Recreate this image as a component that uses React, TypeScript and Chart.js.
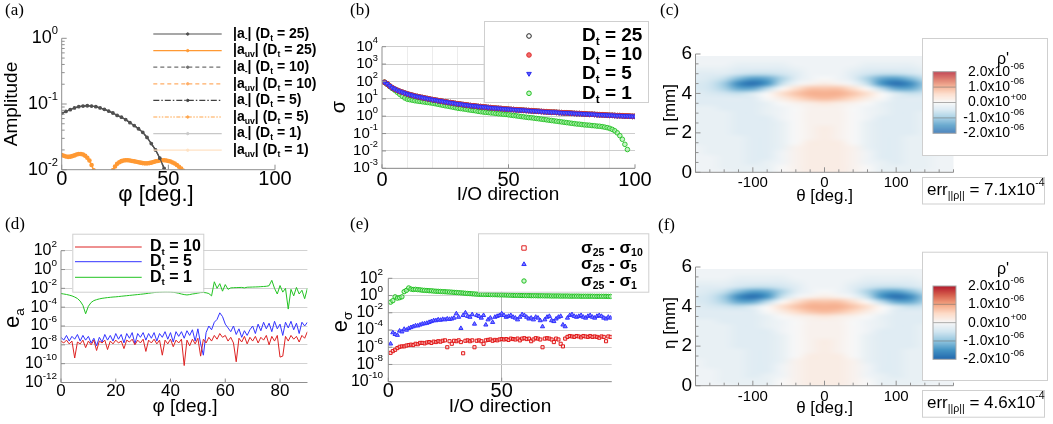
import { useEffect, useRef } from "react";
import { Chart, registerables } from "chart.js";

Chart.register(...registerables);

const W = 1053;
const H = 424;
const SANS = '"Liberation Sans", Arial, Helvetica, sans-serif';
const SERIF = '"Liberation Serif", "Times New Roman", serif';
const AXIS = "#8f8f8f";

// ---------- (a) modal amplitudes ----------
const phiA = [0, 2, 4, 6, 8, 10, 12, 14, 16, 18, 20, 22, 24, 26, 28, 30, 32, 34, 36, 38, 40, 42, 44, 46, 48, 50, 52];
const ampA = [0.072, 0.077, 0.082, 0.087, 0.091, 0.093, 0.094, 0.093, 0.091, 0.087, 0.083, 0.078, 0.073, 0.067, 0.063, 0.058, 0.052, 0.047, 0.042, 0.037, 0.031, 0.025, 0.02, 0.015, 0.0105, 0.0068, 0.004];
const phiAuv = Array.from({ length: 61 }, (_, i) => i);
const ampAuv = [
  0.0167, 0.0163, 0.0159, 0.0157, 0.0158, 0.0161, 0.0165, 0.017, 0.0173, 0.0173,
  0.017, 0.0163, 0.0152, 0.0138, 0.0118, 0.0098, 0.0078, 0.0062, 0.0052, 0.0047,
  0.0046, 0.005, 0.006, 0.0077, 0.0098, 0.0112, 0.0123, 0.013, 0.0135, 0.0138,
  0.0139, 0.0139, 0.0138, 0.0136, 0.0134, 0.0132, 0.013, 0.0128, 0.0126, 0.0125,
  0.0125, 0.0126, 0.0128, 0.0131, 0.0134, 0.0136, 0.0138, 0.0139, 0.0139, 0.0138,
  0.0136, 0.0133, 0.0129, 0.0124, 0.0118, 0.0111, 0.0104, 0.0096, 0.0086, 0.0075,
  0.0065,
];
const ampYTickExp = [0, -1, -2];
const ampXTicks = [0, 50, 100];

// ---------- (b) singular values (log10) ----------
const ioIdx = Array.from({ length: 100 }, (_, i) => i + 1);
const sigmaD25Log = [
  1.95, 1.86, 1.74, 1.64, 1.56, 1.49, 1.43, 1.38, 1.33, 1.28,
  1.24, 1.2, 1.16, 1.13, 1.1, 1.07, 1.04, 1.01, 0.98, 0.95,
  0.93, 0.9, 0.88, 0.85, 0.83, 0.8, 0.78, 0.76, 0.73, 0.71,
  0.69, 0.67, 0.65, 0.63, 0.61, 0.6, 0.58, 0.56, 0.55, 0.53,
  0.52, 0.5, 0.49, 0.47, 0.46, 0.45, 0.44, 0.42, 0.41, 0.4,
  0.39, 0.38, 0.37, 0.36, 0.35, 0.34, 0.33, 0.32, 0.31, 0.3,
  0.29, 0.28, 0.27, 0.26, 0.25, 0.24, 0.23, 0.23, 0.22, 0.21,
  0.2, 0.19, 0.19, 0.18, 0.17, 0.16, 0.15, 0.15, 0.14, 0.13,
  0.12, 0.11, 0.11, 0.1, 0.09, 0.08, 0.08, 0.07, 0.06, 0.05,
  0.05, 0.04, 0.03, 0.03, 0.02, 0.01, 0.01, 0.0, -0.01, -0.01,
];
const sigmaD10Log = sigmaD25Log;
const sigmaD5Log = sigmaD25Log;
const sigmaD1Log = [
  1.95, 1.84, 1.72, 1.6, 1.5, 1.38, 1.26, 1.15, 1.05, 0.98,
  0.95, 0.92, 0.89, 0.87, 0.85, 0.83, 0.81, 0.79, 0.77, 0.75,
  0.72, 0.69, 0.66, 0.63, 0.6, 0.58, 0.55, 0.52, 0.49, 0.46,
  0.44, 0.42, 0.4, 0.37, 0.35, 0.33, 0.31, 0.28, 0.26, 0.24,
  0.22, 0.21, 0.19, 0.18, 0.16, 0.14, 0.13, 0.11, 0.1, 0.08,
  0.06, 0.04, 0.02, 0.0, -0.02, -0.04, -0.06, -0.08, -0.09, -0.11,
  -0.13, -0.15, -0.17, -0.19, -0.21, -0.23, -0.25, -0.27, -0.29, -0.31,
  -0.33, -0.35, -0.37, -0.39, -0.41, -0.43, -0.45, -0.46, -0.48, -0.5,
  -0.51, -0.52, -0.54, -0.55, -0.57, -0.58, -0.6, -0.63, -0.66, -0.7,
  -0.76, -0.84, -0.96, -1.12, -1.33, -1.62, -1.92,
];
const sigmaYTickExp = [4, 3, 2, 1, 0, -1, -2, -3];
const sigmaXTicks = [0, 50, 100];
const sigmaXGrid = [10, 20, 30, 40, 50, 60, 70, 80, 90];

// ---------- (c), (f) density perturbation field, units of 1e-7 ----------
const fieldTheta = [-180, -160, -140, -120, -100, -80, -60, -40, -20, 0, 20, 40, 60, 80, 100, 120, 140, 160, 180];
const fieldEta = [5.75, 5.5, 5.25, 5.0, 4.75, 4.5, 4.25, 4.0, 3.75, 3.5, 3.25, 3.0, 2.75, 2.5, 2.25, 2.0, 1.75, 1.5, 1.25, 1.0, 0.75, 0.5, 0.25, 0.0];
const rhoE7 = [
  [-1, -1, -1, -1, -1, -1, -1, -1, -1, -1, -1, -1, -1, -1, -1, -1, -1, -1, -1],
  [-1, -1, -1, -2, -2, -2, -2, -1, -1, -1, -1, -1, -2, -2, -2, -2, -1, -1, -1],
  [-2, -2, -2, -3, -3, -3, -3, -2, -1, -1, -1, -2, -3, -3, -3, -3, -2, -2, -2],
  [-3, -3, -3, -5, -6, -6, -5, -3, -1, -1, -1, -3, -5, -6, -6, -5, -3, -3, -3],
  [-3, -4, -6, -11, -14, -13, -8, -3, -1, 0, -1, -3, -8, -13, -14, -11, -6, -4, -3],
  [-4, -5, -9, -16, -19, -15, -6, -1, 1, 2, 1, -1, -6, -15, -19, -16, -9, -5, -4],
  [-4, -5, -8, -13, -13, -7, 0, 4, 7, 7, 7, 4, 0, -7, -13, -13, -8, -5, -4],
  [-3, -4, -5, -6, -4, 0, 4, 7, 9, 9, 9, 7, 4, 0, -4, -6, -5, -4, -3],
  [-3, -3, -3, -3, -3, 0, 2, 5, 7, 8, 7, 5, 2, 0, -3, -3, -3, -3, -3],
  [-3, -3, -3, -3, -3, -2, 0, 1, 2, 3, 2, 1, 0, -2, -3, -3, -3, -3, -3],
  [-2, -2, -3, -3, -3, -2, -1, 0, 1, 1, 1, 0, -1, -2, -3, -3, -3, -2, -2],
  [-2, -2, -2, -3, -3, -2, -1, 0, 1, 1, 1, 0, -1, -2, -3, -3, -2, -2, -2],
  [-2, -2, -2, -3, -3, -3, -1, 0, 1, 1, 1, 0, -1, -3, -3, -3, -2, -2, -2],
  [-2, -2, -2, -3, -3, -3, -2, 0, 1, 1, 1, 0, -2, -3, -3, -3, -2, -2, -2],
  [-2, -2, -2, -3, -3, -3, -2, 0, 1, 2, 1, 0, -2, -3, -3, -3, -2, -2, -2],
  [-2, -2, -2, -3, -3, -3, -2, 0, 1, 2, 1, 0, -2, -3, -3, -3, -2, -2, -2],
  [-2, -2, -2, -2, -3, -3, -2, 0, 1, 2, 1, 0, -2, -3, -3, -2, -2, -2, -2],
  [-2, -2, -2, -2, -3, -3, -2, 0, 2, 2, 2, 0, -2, -3, -3, -2, -2, -2, -2],
  [-1, -2, -2, -2, -3, -3, -2, 1, 2, 2, 2, 1, -2, -3, -3, -2, -2, -2, -1],
  [-1, -2, -2, -2, -3, -3, -1, 1, 2, 2, 2, 1, -1, -3, -3, -2, -2, -2, -1],
  [-1, -1, -2, -2, -3, -3, -1, 1, 2, 2, 2, 1, -1, -3, -3, -2, -2, -1, -1],
  [-1, -1, -2, -2, -3, -2, -1, 1, 2, 2, 2, 1, -1, -2, -3, -2, -2, -1, -1],
  [-1, -1, -2, -2, -2, -2, 0, 1, 2, 2, 2, 1, 0, -2, -2, -2, -2, -1, -1],
  [-1, -1, -1, -2, -2, -2, 0, 1, 2, 2, 2, 1, 0, -2, -2, -2, -1, -1, -1],
];
const rhoUnit = 1e-7;
const rhoLimit = 2e-6;
const thetaTicks = [-100, 0, 100];
const thetaMinor = [-180, -160, -140, -120, -80, -60, -40, -20, 20, 40, 60, 80, 120, 140, 160, 180];
const etaTicks = [0, 2, 4, 6];
const etaMinor = [0.5, 1, 1.5, 2.5, 3, 3.5, 4.5, 5, 5.5];
const colorbarLabels = [
  { v: 2e-6, main: "2.0x10", exp: "-06" },
  { v: 1e-6, main: "1.0x10", exp: "-06" },
  { v: 0, main: "0.0x10", exp: "+00" },
  { v: -1e-6, main: "-1.0x10", exp: "-06" },
  { v: -2e-6, main: "-2.0x10", exp: "-06" },
];
const errLabels = [
  { mant: "7.1", exp: "-4" },
  { mant: "4.6", exp: "-4" },
];

// ---------- (d) amplitude error (log10) ----------
const phiD = Array.from({ length: 91 }, (_, i) => i);
const eaD10Log = [
  -7.6, -7.8, -7.5, -7.9, -7.6, -9.4, -7.7, -7.9, -7.5, -8.3,
  -7.6, -8.0, -7.5, -8.6, -7.6, -7.8, -7.5, -8.5, -7.6, -7.9,
  -7.5, -7.8, -7.6, -8.4, -7.5, -7.7, -7.4, -8.0, -7.5, -7.8,
  -7.4, -8.7, -7.5, -7.8, -7.4, -7.9, -7.5, -9.1, -7.5, -7.9,
  -7.4, -8.2, -7.5, -7.8, -7.4, -10.2, -7.5, -8.1, -7.4, -7.9,
  -7.3, -9.2, -7.4, -7.8, -7.2, -7.6, -7.0, -7.4, -6.8, -7.2,
  -7.0, -7.6, -7.2, -7.8, -9.8, -7.3, -7.7, -7.1, -7.9, -7.2,
  -7.6, -7.1, -7.8, -7.2, -7.5, -7.0, -8.0, -7.1, -7.6, -7.0,
  -9.3, -9.2, -7.1, -7.6, -7.0, -7.4, -7.1, -7.7, -7.0, -7.3,
  -6.6,
];
const eaD5Log = [
  -7.2, -7.5, -7.0, -7.6, -7.1, -7.4, -6.9, -7.6, -7.0, -7.5,
  -7.1, -7.8, -7.3, -8.1, -7.2, -7.7, -6.9, -7.5, -7.0, -7.6,
  -6.8, -7.4, -6.9, -7.8, -6.8, -7.3, -6.7, -7.9, -6.8, -7.2,
  -6.7, -7.5, -6.8, -7.3, -6.7, -7.6, -6.8, -7.2, -6.6, -7.4,
  -6.7, -7.7, -6.6, -7.1, -6.6, -7.3, -6.5, -7.0, -6.4, -7.6,
  -6.3, -7.9, -9.1, -6.7, -6.0, -6.4, -5.6, -5.3, -4.6, -5.0,
  -5.8, -6.2, -6.6, -6.0, -6.9, -6.3, -7.2, -6.5, -7.0, -6.4,
  -6.0, -6.8, -5.8, -6.5, -5.6, -6.3, -5.7, -6.6, -5.5, -6.3,
  -5.8, -7.0, -5.6, -6.2, -5.5, -6.4, -5.7, -6.8, -5.6, -6.0,
  -5.6,
];
const eaD1Log = [
  -2.55, -2.6, -2.65, -2.72, -2.8, -2.92, -3.08, -3.35, -3.8, -4.7,
  -3.9, -3.5, -3.3, -3.2, -3.12, -3.06, -3.02, -2.98, -2.95, -2.92,
  -2.9, -2.87, -2.84, -2.81, -2.78, -2.75, -2.72, -2.69, -2.66, -2.63,
  -2.6, -2.56, -2.52, -2.48, -2.45, -2.42, -2.4, -2.38, -2.37, -2.37,
  -2.38, -2.42, -2.46, -2.52, -2.6, -2.66, -2.7, -2.66, -2.6, -2.56,
  -2.5, -2.45, -2.44, -2.47, -2.55, -2.8, -1.3, -2.0, -1.5, -2.3,
  -1.6, -2.1, -1.95, -1.93, -1.92, -1.91, -1.9, -1.95, -1.88, -1.87,
  -1.86, -1.85, -1.84, -1.82, -1.8, -1.78, -1.72, -1.15, -2.0, -2.6,
  -1.7, -2.4, -2.0, -4.2, -2.1, -2.8, -1.9, -2.6, -2.2, -3.1,
  -2.0,
];
const eaYTickExp = [2, 0, -2, -4, -6, -8, -10, -12];
const eaXTicks = [0, 20, 40, 60, 80];

// ---------- (e) singular value differences (log10) ----------
const ioIdxE = Array.from({ length: 98 }, (_, i) => i + 1);
const dS10Log = [
  -6.65, -6.45, -6.3, -6.1, -5.95, -5.9, -5.9, -5.8, -5.75, -5.7,
  -5.75, -5.6, -5.65, -5.5, -5.5, -5.55, -5.45, -5.4, -5.5, -5.35,
  -5.4, -5.3, -5.35, -5.25, -5.2, -6.0, -5.3, -5.6, -5.25, -5.3,
  -5.2, -5.4, -6.7, -5.25, -5.2, -5.3, -5.2, -6.0, -5.25, -5.2,
  -5.3, -5.6, -5.2, -5.15, -5.1, -5.25, -5.15, -5.2, -5.1, -5.05,
  -5.1, -5.05, -5.15, -5.0, -5.05, -5.1, -5.0, -5.2, -5.0, -4.95,
  -5.05, -5.0, -5.3, -5.1, -4.95, -5.0, -5.1, -6.0, -5.0, -4.95,
  -5.0, -5.1, -5.4, -5.0, -5.1, -5.6, -5.9, -5.0, -4.8, -4.7,
  -4.75, -4.8, -4.7, -4.75, -4.85, -4.7, -4.75, -4.8, -4.7, -4.8,
  -4.75, -4.8, -4.9, -4.75, -4.8, -5.3, -4.75, -4.8,
];
const dS5Log = [
  -5.6, -4.3, -4.5, -4.6, -4.1, -4.2, -3.9, -4.0, -3.8, -3.7,
  -3.6, -3.5, -3.5, -3.4, -3.3, -3.25, -3.2, -3.1, -3.0, -2.9,
  -2.9, -2.8, -2.85, -2.75, -2.8, -2.7, -2.75, -2.7, -2.6, -2.1,
  -2.5, -3.8, -2.3, -2.0, -2.4, -2.5, -2.2, -3.3, -2.3, -2.4,
  -2.6, -2.3, -3.4, -2.8, -2.6, -3.1, -2.5, -2.4, -2.3, -2.1,
  -2.3, -2.5, -2.4, -2.3, -2.5, -2.6, -2.8, -2.5, -2.2, -2.3,
  -2.5, -2.7, -2.6, -2.8, -2.5, -2.6, -2.9, -3.6, -2.8, -2.5,
  -2.4, -2.9, -3.0, -2.7, -2.5, -2.4, -3.4, -3.6, -2.6, -2.3,
  -2.2, -2.4, -2.5, -2.4, -2.3, -2.5, -2.6, -2.4, -2.3, -2.5,
  -2.6, -2.4, -2.3, -2.4, -2.6, -2.7, -2.5, -2.6,
];
const dS1Log = [
  -0.77, -0.6, -0.15, -0.3, -0.25, -0.15, 0.45, 0.6, 0.88, 0.75,
  0.7, 0.72, 0.68, 0.66, 0.62, 0.6, 0.58, 0.56, 0.55, 0.52,
  0.5, 0.49, 0.47, 0.45, 0.44, 0.42, 0.41, 0.39, 0.37, 0.35,
  0.33, 0.31, 0.29, 0.26, 0.24, 0.22, 0.2, 0.18, 0.16, 0.15,
  0.14, 0.13, 0.12, 0.12, 0.11, 0.1, 0.1, 0.09, 0.08, 0.08,
  0.07, 0.06, 0.05, 0.04, 0.03, 0.02, 0.02, 0.01, 0.0, 0.0,
  -0.01, -0.01, -0.02, -0.02, -0.02, -0.03, -0.03, -0.03, -0.04, -0.04,
  -0.04, -0.05, -0.05, -0.05, -0.05, -0.06, -0.06, -0.06, -0.06, -0.07,
  -0.07, -0.07, -0.07, -0.07, -0.08, -0.08, -0.08, -0.08, -0.08, -0.08,
  -0.09, -0.09, -0.09, -0.09, -0.09, -0.09, -0.1, -0.1,
];
const esYTickExp = [2, 0, -2, -4, -6, -8, -10];
const esXTicks = [0, 50];

// ---------- helpers ----------
type Run = [string, number?];
type Area = { l: number; t: number; r: number; b: number };

const pow10 = (e: number) => Math.pow(10, e);
const sup10 = (e: number): Run[] => [["10"], [String(e), 2]];
const toXY = (xs: number[], ys: number[]) => xs.slice(0, ys.length).map((x, i) => ({ x, y: ys[i] }));
const toXYLog = (xs: number[], es: number[]) => xs.slice(0, es.length).map((x, i) => ({ x, y: pow10(es[i]) }));

function drawRich(ctx: CanvasRenderingContext2D, runs: Run[], x: number, y: number, size: number, align = "left", weight = "normal", family = SANS) {
  const parts = runs.map(([t, k]) => {
    const fs = k ? size * 0.62 : size;
    ctx.font = `${weight} ${fs}px ${family}`;
    return { t, k: k || 0, fs, w: ctx.measureText(t).width };
  });
  const total = parts.reduce((s, p) => s + p.w, 0);
  let cx = align === "left" ? x : align === "center" ? x - total / 2 : x - total;
  ctx.textAlign = "left";
  ctx.textBaseline = "middle";
  for (const p of parts) {
    ctx.font = `${weight} ${p.fs}px ${family}`;
    const dy = p.k === 1 ? size * 0.32 : p.k === 2 ? -size * 0.4 : 0;
    ctx.fillText(p.t, cx, y + dy);
    cx += p.w;
  }
}

function drawRotated(ctx: CanvasRenderingContext2D, runs: Run[], x: number, y: number, size: number) {
  ctx.save();
  ctx.translate(x, y);
  ctx.rotate(-Math.PI / 2);
  drawRich(ctx, runs, 0, 0, size, "center");
  ctx.restore();
}

function panelLabel(ctx: CanvasRenderingContext2D, text: string, x: number, y: number) {
  ctx.font = `17px ${SERIF}`;
  ctx.fillStyle = "#000";
  ctx.textAlign = "left";
  ctx.textBaseline = "middle";
  ctx.fillText(text, x, y);
}

function axisLines(ctx: CanvasRenderingContext2D, a: any) {
  ctx.strokeStyle = AXIS;
  ctx.lineWidth = 1;
  ctx.setLineDash([]);
  ctx.beginPath();
  ctx.moveTo(a.left, a.top);
  ctx.lineTo(a.left, a.bottom);
  ctx.lineTo(a.right, a.bottom);
  ctx.stroke();
}

function ticksY(ctx: CanvasRenderingContext2D, a: any, s: any, values: number[], len: number) {
  ctx.beginPath();
  for (const v of values) {
    const p = s.getPixelForValue(v);
    ctx.moveTo(a.left, p);
    ctx.lineTo(a.left + len, p);
  }
  ctx.stroke();
}

function ticksX(ctx: CanvasRenderingContext2D, a: any, s: any, values: number[], len: number) {
  ctx.beginPath();
  for (const v of values) {
    const p = s.getPixelForValue(v);
    ctx.moveTo(p, a.bottom);
    ctx.lineTo(p, a.bottom - len);
  }
  ctx.stroke();
}

function whiteBox(ctx: CanvasRenderingContext2D, x: number, y: number, w: number, h: number) {
  ctx.fillStyle = "#fff";
  ctx.fillRect(x, y, w, h);
  ctx.strokeStyle = "#cfcfcf";
  ctx.lineWidth = 1;
  ctx.setLineDash([]);
  ctx.strokeRect(x + 0.5, y + 0.5, w, h);
}

function marker(ctx: CanvasRenderingContext2D, style: string, x: number, y: number, r: number, stroke: string, fill: string) {
  ctx.beginPath();
  if (style === "rect") ctx.rect(x - r, y - r, 2 * r, 2 * r);
  else if (style === "triDown") {
    ctx.moveTo(x - r, y - r * 0.7);
    ctx.lineTo(x + r, y - r * 0.7);
    ctx.lineTo(x, y + r);
    ctx.closePath();
  } else if (style === "triUp") {
    ctx.moveTo(x - r, y + r * 0.7);
    ctx.lineTo(x + r, y + r * 0.7);
    ctx.lineTo(x, y - r);
    ctx.closePath();
  } else ctx.arc(x, y, r, 0, Math.PI * 2);
  if (fill) {
    ctx.fillStyle = fill;
    ctx.fill();
  }
  ctx.strokeStyle = stroke;
  ctx.lineWidth = 1;
  ctx.setLineDash([]);
  ctx.stroke();
}

const rdBu: [number, number[]][] = [
  [-1, [33, 102, 172]],
  [-0.75, [67, 147, 195]],
  [-0.5, [146, 197, 222]],
  [-0.25, [209, 229, 240]],
  [0, [247, 247, 247]],
  [0.25, [253, 219, 199]],
  [0.5, [244, 165, 130]],
  [0.75, [214, 96, 77]],
  [1, [178, 24, 43]],
];

function rdBuColor(t: number): number[] {
  const v = Math.max(-1, Math.min(1, t));
  for (let i = 0; i < rdBu.length - 1; i++) {
    const [t0, c0] = rdBu[i];
    const [t1, c1] = rdBu[i + 1];
    if (v <= t1) {
      const f = (v - t0) / (t1 - t0);
      return c0.map((c, k) => Math.round(c + (c1[k] - c) * f));
    }
  }
  return rdBu[rdBu.length - 1][1];
}

function linScale(min: number, max: number, grid?: number[], color = "#ddd") {
  return {
    type: "linear",
    min,
    max,
    ticks: { display: false },
    border: { display: false },
    grid: grid ? { display: true, color, drawTicks: false, lineWidth: 1 } : { display: false, drawTicks: false },
    afterBuildTicks: (s: any) => {
      s.ticks = (grid || []).map((v) => ({ value: v }));
    },
  };
}

function logScale(min: number, max: number, gridExp?: number[], color = "#ddd") {
  return {
    type: "logarithmic",
    min,
    max,
    ticks: { display: false },
    border: { display: false },
    grid: gridExp ? { display: true, color, drawTicks: false, lineWidth: 1 } : { display: false, drawTicks: false },
    afterBuildTicks: (s: any) => {
      s.ticks = (gridExp || []).map((e) => ({ value: pow10(e) }));
    },
  };
}

function baseOptions(area: Area, scales: any) {
  return {
    responsive: false,
    animation: false,
    events: [],
    layout: { padding: { left: area.l, top: area.t, right: W - area.r, bottom: H - area.b } },
    plugins: { legend: { display: false }, tooltip: { enabled: false }, title: { display: false } },
    scales,
  };
}

// ---------- panel (a) ----------
const aLegend = [
  { runs: [["|a"], ["-", 1], ["| (D"], ["t", 1], [" = 25)"]] as Run[], color: "#505050", dash: [] as number[] },
  { runs: [["|a"], ["uv", 1], ["| (D"], ["t", 1], [" = 25)"]] as Run[], color: "#ff9933", dash: [] },
  { runs: [["|a"], ["-", 1], ["| (D"], ["t", 1], [" = 10)"]] as Run[], color: "#707070", dash: [4, 3] },
  { runs: [["|a"], ["uv", 1], ["| (D"], ["t", 1], [" = 10)"]] as Run[], color: "#ffad66", dash: [4, 3] },
  { runs: [["|a"], ["-", 1], ["| (D"], ["t", 1], [" = 5)"]] as Run[], color: "#404040", dash: [6, 2, 1.5, 2] },
  { runs: [["|a"], ["uv", 1], ["| (D"], ["t", 1], [" = 5)"]] as Run[], color: "#ffa64d", dash: [4, 1.5, 1.5, 1.5, 1.5, 1.5] },
  { runs: [["|a"], ["-", 1], ["| (D"], ["t", 1], [" = 1)"]] as Run[], color: "#c8c8c8", dash: [] },
  { runs: [["|a"], ["uv", 1], ["| (D"], ["t", 1], [" = 1)"]] as Run[], color: "#ffe2c4", dash: [] },
];

function panelA(canvas: HTMLCanvasElement) {
  const area = { l: 61.7, t: 38.3, r: 275, b: 169.7 };
  const minors: number[] = [];
  for (const d of [0.01, 0.1]) for (let k = 2; k <= 9; k++) minors.push(d * k);
  const datasets = aLegend.map((it, i) => {
    const isUv = i % 2 === 1;
    return {
      data: isUv ? toXY(phiAuv, ampAuv) : toXY(phiA, ampA),
      showLine: true,
      borderColor: it.color,
      backgroundColor: it.color,
      borderWidth: 1.2,
      borderDash: it.dash,
      pointRadius: i < 2 ? (isUv ? 1.7 : 1.3) : 0,
      pointStyle: "circle",
      clip: 0,
    };
  });
  return new Chart(canvas, {
    type: "scatter",
    data: { datasets },
    options: baseOptions(area, { x: linScale(0, 100), y: logScale(0.01, 1) }),
    plugins: [
      {
        id: "decorA",
        afterDraw(chart: any) {
          const { ctx, chartArea: a, scales } = chart;
          const { x, y } = scales;
          ctx.save();
          axisLines(ctx, a);
          ticksY(ctx, a, y, ampYTickExp.map(pow10), 5);
          ticksY(ctx, a, y, minors, 3);
          ticksX(ctx, a, x, ampXTicks, 5);
          ctx.fillStyle = "#000";
          for (const e of ampYTickExp) drawRich(ctx, sup10(e), 58, y.getPixelForValue(pow10(e)), 18, "right");
          for (const v of ampXTicks) drawRich(ctx, [[String(v)]], x.getPixelForValue(v), 179, 20, "center");
          drawRotated(ctx, [["Amplitude"]], 12, (a.top + a.bottom) / 2, 19);
          drawRich(ctx, [["φ [deg.]"]], 156, 195, 22, "center");
          panelLabel(ctx, "(a)", 5, 11);
          aLegend.forEach((it, i) => {
            const ry = 34 + i * 16.6;
            ctx.strokeStyle = it.color;
            ctx.lineWidth = 1.2;
            ctx.setLineDash(it.dash);
            ctx.beginPath();
            ctx.moveTo(153.3, ry);
            ctx.lineTo(221.7, ry);
            ctx.stroke();
            ctx.setLineDash([]);
            marker(ctx, "circle", 187.7, ry, 1.2, it.color, it.color);
            ctx.fillStyle = "#000";
            drawRich(ctx, it.runs, 233, ry, 14, "left", "bold");
          });
          ctx.restore();
        },
      },
    ],
  } as any);
}

// ---------- panel (b) ----------
const bLegend = [
  { runs: [["D"], ["t", 1], [" = 25"]] as Run[], style: "circle", stroke: "#222", fill: "" },
  { runs: [["D"], ["t", 1], [" = 10"]] as Run[], style: "circle", stroke: "#e03030", fill: "#f06a6a" },
  { runs: [["D"], ["t", 1], [" = 5"]] as Run[], style: "triDown", stroke: "#2b2bee", fill: "#5a5aff" },
  { runs: [["D"], ["t", 1], [" = 1"]] as Run[], style: "circle", stroke: "#22c022", fill: "rgba(160,240,160,0.6)" },
];

function panelB(canvas: HTMLCanvasElement) {
  const area = { l: 382, t: 46.7, r: 635, b: 168.3 };
  const ds = (data: any, style: string, stroke: string, fill: string, r: number, rot = 0) => ({
    data,
    showLine: false,
    pointStyle: style,
    pointRotation: rot,
    pointRadius: r,
    borderWidth: 0.9,
    borderColor: stroke,
    backgroundColor: fill || "rgba(0,0,0,0)",
  });
  const datasets = [
    ds(toXYLog(ioIdx, sigmaD5Log), "triangle", "#2b2bee", "#5a5aff", 2.7, 180),
    ds(toXYLog(ioIdx, sigmaD10Log), "circle", "#e03030", "#f06a6a", 2.4),
    ds(toXYLog(ioIdx, sigmaD25Log), "circle", "#222", "", 2.4),
    ds(toXYLog(ioIdx, sigmaD1Log), "circle", "#22c022", "rgba(160,240,160,0.6)", 2.3),
  ];
  return new Chart(canvas, {
    type: "scatter",
    data: { datasets },
    options: baseOptions(area, {
      x: linScale(0, 100, sigmaXGrid, "#ececec"),
      y: logScale(1e-3, 1e4, sigmaYTickExp, "#cdcdcd"),
    }),
    plugins: [
      {
        id: "decorB",
        afterDraw(chart: any) {
          const { ctx, chartArea: a, scales } = chart;
          const { x, y } = scales;
          ctx.save();
          axisLines(ctx, a);
          ticksY(ctx, a, y, sigmaYTickExp.map(pow10), 4);
          ticksX(ctx, a, x, sigmaXTicks, 4);
          ctx.fillStyle = "#000";
          for (const e of sigmaYTickExp) drawRich(ctx, sup10(e), 378, y.getPixelForValue(pow10(e)), 15, "right");
          for (const v of sigmaXTicks) drawRich(ctx, [[String(v)]], x.getPixelForValue(v), 180, 20, "center");
          drawRich(ctx, [["I/O direction"]], 508, 195, 19, "center");
          drawRotated(ctx, [["σ"]], 339, 107, 20);
          panelLabel(ctx, "(b)", 350, 11);
          whiteBox(ctx, 484, 21, 164, 81);
          const rows = [36, 55, 74, 93.3];
          bLegend.forEach((it, i) => {
            marker(ctx, it.style, 529, rows[i], 2.3, it.stroke, it.fill);
            ctx.fillStyle = "#000";
            drawRich(ctx, it.runs, 582, rows[i], 19, "left", "bold");
          });
          ctx.restore();
        },
      },
    ],
  } as any);
}

// ---------- panels (c), (f) ----------
function drawField(chart: any) {
  const { ctx, chartArea: a, scales } = chart;
  const { x, y } = scales;
  const rows = rhoE7.length;
  const cols = rhoE7[0].length;
  const off = document.createElement("canvas");
  off.width = cols;
  off.height = rows;
  const octx = off.getContext("2d") as CanvasRenderingContext2D;
  const img = octx.createImageData(cols, rows);
  for (let r = 0; r < rows; r++) {
    for (let c = 0; c < cols; c++) {
      const [R, G, B] = rdBuColor((rhoE7[r][c] * rhoUnit) / rhoLimit);
      const k = (r * cols + c) * 4;
      img.data[k] = R;
      img.data[k + 1] = G;
      img.data[k + 2] = B;
      img.data[k + 3] = 255;
    }
  }
  octx.putImageData(img, 0, 0);
  const dT = fieldTheta[1] - fieldTheta[0];
  const dE = fieldEta[0] - fieldEta[1];
  const x0 = x.getPixelForValue(fieldTheta[0] - dT / 2);
  const x1 = x.getPixelForValue(fieldTheta[cols - 1] + dT / 2);
  const y0 = y.getPixelForValue(fieldEta[0] + dE / 2);
  const y1 = y.getPixelForValue(fieldEta[rows - 1] - dE / 2);
  ctx.save();
  ctx.beginPath();
  ctx.rect(a.left, a.top, a.right - a.left, a.bottom - a.top);
  ctx.clip();
  ctx.imageSmoothingEnabled = true;
  ctx.imageSmoothingQuality = "high";
  ctx.drawImage(off, x0, y0, x1 - x0, y1 - y0);
  ctx.restore();
}

type FieldLayout = {
  area: Area;
  label: string;
  labelX: number;
  labelY: number;
  tickY: number;
  titleY: number;
  etaTitleY: number;
  box: number[];
  rhoY: number;
  bar: number[];
  err: number[];
  errIdx: number;
};

function panelField(canvas: HTMLCanvasElement, L: FieldLayout) {
  return new Chart(canvas, {
    type: "scatter",
    data: { datasets: [] },
    options: baseOptions(L.area, { x: linScale(-180, 180), y: linScale(0, 6) }),
    plugins: [
      {
        id: "field",
        beforeDatasetsDraw(chart: any) {
          drawField(chart);
        },
        afterDraw(chart: any) {
          const { ctx, chartArea: a, scales } = chart;
          const { x, y } = scales;
          ctx.save();
          axisLines(ctx, a);
          ticksX(ctx, a, x, thetaTicks, 5);
          ticksX(ctx, a, x, thetaMinor, 3);
          ticksY(ctx, a, y, etaTicks, 5);
          ticksY(ctx, a, y, etaMinor, 3);
          ctx.fillStyle = "#000";
          for (const v of etaTicks) drawRich(ctx, [[String(v)]], 692, y.getPixelForValue(v), 19, "right");
          for (const v of thetaTicks) drawRich(ctx, [[String(v)]], x.getPixelForValue(v), L.tickY, 15, "center");
          drawRich(ctx, [["θ [deg.]"]], (a.left + a.right) / 2, L.titleY, 17, "center");
          drawRotated(ctx, [["η [mm]"]], 670, L.etaTitleY, 17);
          panelLabel(ctx, L.label, L.labelX, L.labelY);

          // colour legend
          const [bx, by, bw, bh] = L.box;
          whiteBox(ctx, bx, by, bw, bh);
          ctx.fillStyle = "#000";
          drawRich(ctx, [["ρ'"]], 1003, L.rhoY, 16, "center");
          const [cx0, cy0, cx1, cy1] = L.bar;
          const ch = cy1 - cy0;
          for (let py = cy0; py < cy1; py += 1) {
            const t = 1 - (2 * (py + 0.5 - cy0)) / ch;
            const [R, G, B] = rdBuColor(t);
            ctx.fillStyle = `rgb(${R},${G},${B})`;
            ctx.fillRect(cx0, py, cx1 - cx0, Math.min(1, cy1 - py));
          }
          ctx.strokeStyle = "rgba(110,110,110,0.55)";
          ctx.lineWidth = 1;
          ctx.beginPath();
          for (const lab of colorbarLabels) {
            if (Math.abs(lab.v) >= rhoLimit) continue;
            const py = cy0 + ((1 - lab.v / rhoLimit) / 2) * ch;
            ctx.moveTo(cx0, py);
            ctx.lineTo(cx1, py);
          }
          ctx.stroke();
          ctx.strokeStyle = "#a8a8a8";
          ctx.strokeRect(cx0, cy0, cx1 - cx0, ch);
          for (const lab of colorbarLabels) {
            const py = cy0 + ((1 - lab.v / rhoLimit) / 2) * ch;
            ctx.fillStyle = "#000";
            ctx.font = `14px ${SANS}`;
            ctx.textAlign = "right";
            ctx.textBaseline = "middle";
            ctx.fillText(lab.main, 1010, py);
            ctx.font = `9.5px ${SANS}`;
            ctx.textAlign = "left";
            ctx.fillText(lab.exp, 1010.5, py - 5.5);
          }

          // error norm box
          const [ex, ey, ew, eh] = L.err;
          whiteBox(ctx, ex, ey, ew, eh);
          ctx.fillStyle = "#000";
          const e = errLabels[L.errIdx];
          drawRich(ctx, [["err"], ["||ρ||", 1], [` = ${e.mant}x10`], [e.exp, 2]], ex + 5, ey + eh / 2, 17, "left");
          ctx.restore();
        },
      },
    ],
  } as any);
}

const layoutC: FieldLayout = {
  area: { l: 695.5, t: 54, r: 953.5, b: 172.3 },
  label: "(c)",
  labelX: 660,
  labelY: 11,
  tickY: 182.7,
  titleY: 196.7,
  etaTitleY: 110,
  box: [922, 38, 125, 117],
  rhoY: 60,
  bar: [933, 71.7, 956, 133.3],
  err: [922, 177, 122, 26.5],
  errIdx: 0,
};

const layoutF: FieldLayout = {
  area: { l: 695.5, t: 267, r: 953.5, b: 385.7 },
  label: "(f)",
  labelX: 658,
  labelY: 226,
  tickY: 396.5,
  titleY: 408,
  etaTitleY: 323,
  box: [922, 251.7, 125, 128.3],
  rhoY: 270,
  bar: [933, 286, 956, 359.3],
  err: [922, 390, 122, 26.7],
  errIdx: 1,
};

// ---------- panel (d) ----------
const dLegend = [
  { runs: [["D"], ["t", 1], [" = 10"]] as Run[], color: "#dd2222" },
  { runs: [["D"], ["t", 1], [" = 5"]] as Run[], color: "#3333ff" },
  { runs: [["D"], ["t", 1], [" = 1"]] as Run[], color: "#22c322" },
];

function panelD(canvas: HTMLCanvasElement) {
  const area = { l: 61, t: 250.7, r: 307.4, b: 382.5 };
  const series = [eaD10Log, eaD5Log, eaD1Log];
  const datasets = series.map((s, i) => ({
    data: toXYLog(phiD, s),
    showLine: true,
    borderColor: dLegend[i].color,
    borderWidth: 1,
    pointRadius: 0,
  }));
  return new Chart(canvas, {
    type: "scatter",
    data: { datasets },
    options: baseOptions(area, { x: linScale(0, 90), y: logScale(1e-12, 1e2, eaYTickExp, "#d2d2d2") }),
    plugins: [
      {
        id: "decorD",
        afterDraw(chart: any) {
          const { ctx, chartArea: a, scales } = chart;
          const { x, y } = scales;
          ctx.save();
          axisLines(ctx, a);
          ticksY(ctx, a, y, eaYTickExp.map(pow10), 4);
          ticksX(ctx, a, x, eaXTicks, 4);
          ctx.fillStyle = "#000";
          for (const e of eaYTickExp) drawRich(ctx, sup10(e), 57, y.getPixelForValue(pow10(e)), 16, "right");
          for (const v of eaXTicks) drawRich(ctx, [[String(v)]], x.getPixelForValue(v), 391.7, 17, "center");
          drawRich(ctx, [["φ [deg.]"]], 185, 406.7, 19, "center");
          drawRotated(ctx, [["e"], ["a", 1]], 13, 318, 22);
          panelLabel(ctx, "(d)", 5, 225);
          whiteBox(ctx, 72.3, 233.7, 131, 58);
          const rows = [247, 261.7, 277.3];
          dLegend.forEach((it, i) => {
            ctx.strokeStyle = it.color;
            ctx.lineWidth = 1;
            ctx.beginPath();
            ctx.moveTo(75, rows[i]);
            ctx.lineTo(141.7, rows[i]);
            ctx.stroke();
            ctx.fillStyle = "#000";
            drawRich(ctx, it.runs, 150, rows[i], 16, "left", "bold");
          });
          ctx.restore();
        },
      },
    ],
  } as any);
}

// ---------- panel (e) ----------
const eLegend = [
  { runs: [["σ"], ["25", 1], [" - σ"], ["10", 1]] as Run[], style: "rect", stroke: "#e02020", fill: "" },
  { runs: [["σ"], ["25", 1], [" - σ"], ["5", 1]] as Run[], style: "triUp", stroke: "#3030ff", fill: "#7a7aff" },
  { runs: [["σ"], ["25", 1], [" - σ"], ["1", 1]] as Run[], style: "circle", stroke: "#22c022", fill: "rgba(170,240,170,0.6)" },
];

function panelE(canvas: HTMLCanvasElement) {
  const area = { l: 388.3, t: 278.3, r: 611.7, b: 381.7 };
  const datasets = [
    { data: toXYLog(ioIdxE, dS10Log), pointStyle: "rect", pointRadius: 2.2, borderColor: "#e01818", backgroundColor: "rgba(255,200,200,0.4)" },
    { data: toXYLog(ioIdxE, dS5Log), pointStyle: "triangle", pointRadius: 2.4, borderColor: "#3030ff", backgroundColor: "#7a7aff" },
    { data: toXYLog(ioIdxE, dS1Log), pointStyle: "circle", pointRadius: 2.2, borderColor: "#22c022", backgroundColor: "rgba(170,240,170,0.6)" },
  ].map((d) => ({ ...d, showLine: false, borderWidth: 1 }));
  return new Chart(canvas, {
    type: "scatter",
    data: { datasets },
    options: baseOptions(area, {
      x: linScale(0, 98.5, [50], "#b8b8b8"),
      y: logScale(1e-10, 1e2, esYTickExp, "#d2d2d2"),
    }),
    plugins: [
      {
        id: "decorE",
        afterDraw(chart: any) {
          const { ctx, chartArea: a, scales } = chart;
          const { x, y } = scales;
          ctx.save();
          axisLines(ctx, a);
          ticksY(ctx, a, y, esYTickExp.map(pow10), 4);
          ticksX(ctx, a, x, esXTicks, 4);
          ctx.fillStyle = "#000";
          for (const e of esYTickExp) drawRich(ctx, sup10(e), 383, y.getPixelForValue(pow10(e)), 16, "right");
          for (const v of esXTicks) drawRich(ctx, [[String(v)]], x.getPixelForValue(v), 391.7, 20, "center");
          drawRich(ctx, [["I/O direction"]], 500, 406.7, 19, "center");
          drawRotated(ctx, [["e"], ["σ", 1]], 341, 322, 22);
          panelLabel(ctx, "(e)", 350, 225);
          whiteBox(ctx, 478, 233.3, 170.3, 58.4);
          const rows = [248, 264, 281];
          eLegend.forEach((it, i) => {
            marker(ctx, it.style, 524, rows[i], 2.2, it.stroke, it.fill);
            ctx.fillStyle = "#000";
            drawRich(ctx, it.runs, 581, rows[i], 17, "left", "bold");
          });
          ctx.restore();
        },
      },
    ],
  } as any);
}

export default function App() {
  const refs = useRef<(HTMLCanvasElement | null)[]>([]);
  useEffect(() => {
    const c = refs.current as HTMLCanvasElement[];
    const charts = [
      panelA(c[0]),
      panelB(c[1]),
      panelField(c[2], layoutC),
      panelD(c[3]),
      panelE(c[4]),
      panelField(c[5], layoutF),
    ];
    return () => charts.forEach((ch) => ch.destroy());
  }, []);
  return (
    <div style={{ position: "absolute", left: 0, top: 0, width: W, height: H, background: "#fff", overflow: "hidden" }}>
      {[0, 1, 2, 3, 4, 5].map((i) => (
        <canvas
          key={i}
          ref={(el) => {
            refs.current[i] = el;
          }}
          width={W}
          height={H}
          style={{ position: "absolute", left: 0, top: 0, width: W, height: H }}
        />
      ))}
    </div>
  );
}
